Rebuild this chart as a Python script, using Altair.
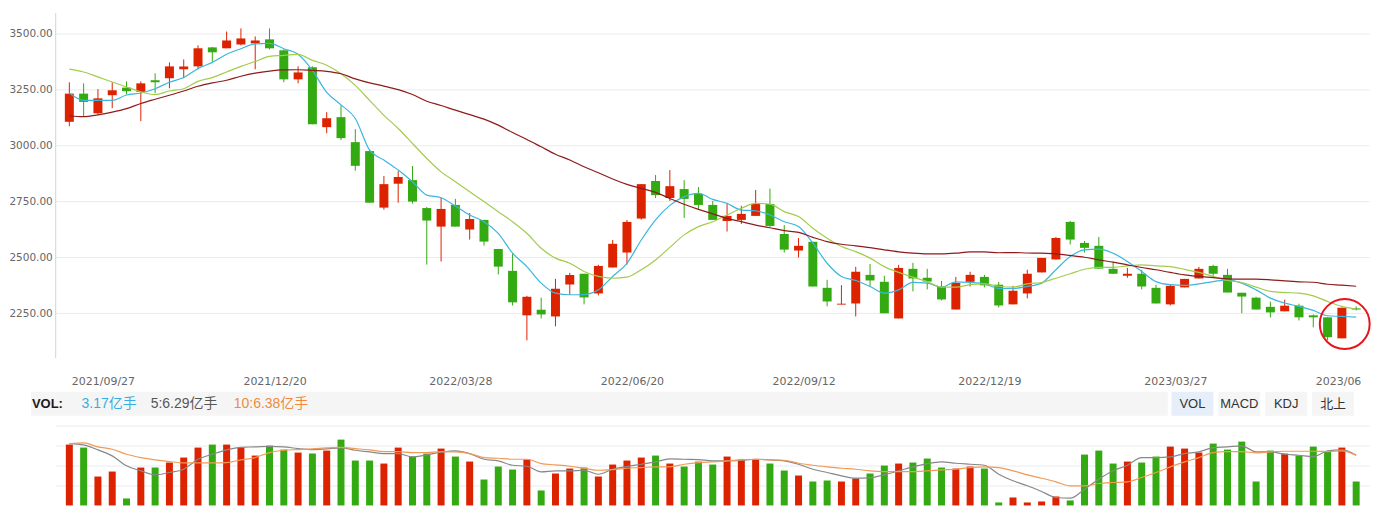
import altair as alt
import pandas as pd

# ---------------- data ----------------
tick_idx = [0, 12, 25, 37, 49, 62, 75, 87]
tick_labels = ["2021/09/27", "2021/12/20", "2022/03/28", "2022/06/20",
               "2022/09/12", "2022/12/19", "2023/03/27", "2023/06"]

open_ = [3106, 3232, 3144, 3225, 3259, 3240, 3292, 3301, 3341, 3354, 3439, 3435, 3452, 3457, 3475, 3426, 3296, 3350, 3082, 3127,
         3015, 2975, 2722, 2829, 2845, 2720, 2637, 2734, 2624, 2667, 2537, 2439, 2240, 2265, 2235, 2378, 2426, 2338, 2454, 2521,
         2673, 2841, 2765, 2805, 2783, 2734, 2662, 2667, 2685, 2738, 2604, 2530, 2569, 2363, 2289, 2293, 2421, 2390, 2226, 2448,
         2408, 2369, 2266, 2390, 2412, 2377, 2289, 2338, 2432, 2490, 2658, 2564, 2551, 2448, 2417, 2426, 2363, 2289, 2365, 2405,
         2461, 2421, 2341, 2319, 2278, 2258, 2283, 2240, 2231, 2137, 2271]
close = [3232, 3195, 3211, 3247, 3243, 3278, 3283, 3354, 3354, 3435, 3417, 3470, 3479, 3470, 3435, 3296, 3327, 3095, 3122, 3033,
         2909, 2744, 2827, 2859, 2749, 2664, 2716, 2637, 2671, 2570, 2458, 2298, 2323, 2244, 2359, 2421, 2320, 2461, 2560, 2658,
         2827, 2778, 2818, 2761, 2734, 2667, 2685, 2694, 2738, 2640, 2534, 2551, 2369, 2302, 2292, 2435, 2396, 2249, 2452, 2405,
         2391, 2311, 2385, 2421, 2374, 2284, 2350, 2426, 2497, 2586, 2579, 2542, 2449, 2426, 2426, 2369, 2293, 2372, 2403, 2448,
         2426, 2342, 2324, 2266, 2253, 2283, 2231, 2231, 2142, 2274, 2266]
high = [3283, 3278, 3252, 3283, 3287, 3287, 3323, 3372, 3385, 3448, 3441, 3510, 3524, 3488, 3524, 3430, 3354, 3354, 3149, 3180,
        3073, 2984, 2863, 2885, 2908, 2725, 2766, 2761, 2698, 2667, 2537, 2515, 2327, 2319, 2403, 2430, 2426, 2466, 2577, 2667,
        2827, 2868, 2890, 2845, 2814, 2752, 2739, 2730, 2801, 2807, 2644, 2586, 2569, 2399, 2375, 2457, 2470, 2417, 2466, 2475,
        2448, 2394, 2412, 2435, 2421, 2390, 2372, 2444, 2497, 2591, 2662, 2573, 2591, 2479, 2452, 2444, 2377, 2377, 2403, 2457,
        2466, 2448, 2341, 2323, 2301, 2310, 2292, 2244, 2231, 2274, 2280]
low = [3086, 3131, 3140, 3167, 3229, 3109, 3234, 3256, 3301, 3341, 3376, 3435, 3448, 3341, 3430, 3283, 3278, 3095, 3055, 3024,
       2887, 2744, 2713, 2744, 2740, 2467, 2481, 2637, 2579, 2552, 2423, 2284, 2128, 2226, 2191, 2332, 2289, 2329, 2454, 2467,
       2668, 2765, 2752, 2676, 2716, 2667, 2615, 2649, 2685, 2635, 2521, 2499, 2369, 2280, 2289, 2235, 2369, 2249, 2226, 2347,
       2356, 2307, 2266, 2369, 2365, 2275, 2289, 2316, 2432, 2490, 2557, 2521, 2449, 2426, 2408, 2356, 2293, 2284, 2365, 2405,
       2412, 2342, 2249, 2266, 2231, 2258, 2217, 2186, 2128, 2137, 2262]

# weekly volume, 亿手
vol = [6.1, 5.8, 2.9, 3.4, 0.7, 3.8, 3.8, 4.3, 4.8, 5.8, 6.1, 6.1, 5.8, 5.0, 6.0, 5.6, 5.3, 5.2, 5.5, 6.6, 4.5, 4.5, 4.2,
       5.8, 4.9, 5.2, 5.7, 4.9, 4.4, 2.6, 3.9, 3.6, 4.6, 1.5, 3.2, 3.7, 3.8, 2.9, 4.1, 4.5, 4.8, 5.0, 4.2, 3.9, 4.4,
       4.1, 4.9, 4.6, 4.6, 4.2, 3.5, 3.0, 2.4, 2.5, 2.4, 2.7, 3.2, 4.0, 4.2, 4.3, 4.7, 3.8, 3.7, 3.9, 3.7, 0.3, 0.8, 0.3,
       0.4, 0.9, 0.5, 5.1, 5.5, 4.2, 4.4, 4.3, 4.9, 5.9, 5.7, 5.3, 6.2, 5.6, 6.4, 2.4, 5.5, 5.2, 5.0, 5.9, 5.4, 5.8, 2.4]
vol_ma5 = [6.2, 6.07, 5.57, 4.97, 3.97, 3.47, 3.07, 3.3, 3.63, 4.63, 5.13, 5.57, 5.83, 5.87, 5.93, 5.87, 5.7, 5.6, 5.67, 5.77, 5.53, 5.37, 5.2,
           5.2, 4.87, 5.07, 5.33, 5.47, 5.2, 4.63, 4.47, 4.03, 3.93, 3.37, 3.47, 3.47, 3.53, 3.13, 3.63, 3.9, 4.13, 4.37, 4.67, 4.63, 4.6,
           4.47, 4.47, 4.53, 4.63, 4.57, 4.47, 4.13, 3.63, 3.3, 2.97, 2.73, 2.77, 3.07, 3.47, 3.87, 4.2, 4.37, 4.23, 4.13, 4.03, 3.13, 2.47, 1.97,
           1.4, 0.8, 0.73, 1.63, 2.63, 3.47, 4.03, 4.8, 4.8, 4.87, 5.2, 5.37, 5.8, 5.87, 5.97, 5.37, 5.37, 5.13, 5.03, 4.9, 5.47, 5.57, 5.03]
vol_ma10 = [6.2, 6.27, 5.87, 5.63, 5.13, 4.8, 4.57, 4.4, 4.27, 4.27, 4.27, 4.3, 4.57, 4.8, 5.3, 5.53, 5.6, 5.67, 5.77, 5.83, 5.7, 5.57, 5.4,
            5.4, 5.3, 5.3, 5.4, 5.37, 5.2, 4.8, 4.73, 4.63, 4.63, 4.2, 4.07, 3.93, 3.73, 3.53, 3.6, 3.73, 3.8, 3.87, 3.87, 4.13, 4.3,
            4.37, 4.47, 4.57, 4.63, 4.57, 4.53, 4.23, 4.03, 3.87, 3.73, 3.63, 3.47, 3.4, 3.4, 3.4, 3.47, 3.57, 3.63, 3.8, 3.87, 3.8, 3.47, 3.07,
            2.73, 2.37, 1.97, 1.97, 2.2, 2.3, 2.37, 2.8, 3.3, 3.87, 4.37, 4.8, 5.3, 5.4, 5.4, 5.27, 5.37, 5.43, 5.43, 5.43, 5.4, 5.47, 5.03]

ma_fast = [3235, 3202, 3202, 3202, 3226, 3235, 3254, 3283, 3304, 3344, 3372, 3408, 3433, 3455, 3457, 3433, 3408, 3336, 3238, 3182,
           3121, 2979, 2935, 2890, 2838, 2778, 2766, 2729, 2689, 2659, 2607, 2518, 2458, 2384, 2339, 2332, 2333, 2354, 2414, 2473,
           2577, 2667, 2732, 2771, 2786, 2759, 2741, 2711, 2708, 2689, 2659, 2637, 2563, 2473, 2414, 2396, 2369, 2339, 2354, 2387,
           2384, 2366, 2390, 2387, 2381, 2360, 2360, 2369, 2384, 2444, 2503, 2533, 2536, 2518, 2481, 2436, 2391, 2377, 2374, 2381,
           2391, 2399, 2384, 2354, 2317, 2295, 2280, 2262, 2238, 2235, 2232]
ma_mid = [3342, 3329, 3307, 3284, 3262, 3240, 3228, 3244, 3254, 3287, 3304, 3329, 3354, 3376, 3399, 3403, 3408, 3381, 3359, 3321,
          3269, 3202, 3135, 3076, 3009, 2942, 2882, 2838, 2793, 2749, 2704, 2659, 2607, 2540, 2496, 2473, 2436, 2414, 2406, 2411,
          2444, 2488, 2544, 2600, 2637, 2659, 2689, 2719, 2741, 2738, 2704, 2682, 2630, 2585, 2548, 2525, 2496, 2458, 2432, 2411,
          2391, 2366, 2366, 2377, 2381, 2370, 2366, 2381, 2387, 2406, 2426, 2446, 2455, 2455, 2461, 2466, 2461, 2458, 2446, 2432,
          2414, 2396, 2387, 2366, 2347, 2342, 2339, 2327, 2302, 2280, 2268]
ma_slow = [3132, 3129, 3137, 3149, 3165, 3188, 3207, 3225, 3244, 3265, 3280, 3292, 3310, 3324, 3333, 3338, 3339, 3336, 3332, 3321,
           3298, 3280, 3266, 3250, 3228, 3198, 3179, 3158, 3138, 3118, 3091, 3058, 3027, 2994, 2961, 2935, 2905, 2878, 2850, 2826,
           2808, 2790, 2763, 2737, 2714, 2694, 2674, 2659, 2644, 2632, 2619, 2611, 2589, 2570, 2558, 2551, 2543, 2533, 2524, 2518,
           2515, 2515, 2518, 2524, 2524, 2520, 2521, 2519, 2518, 2515, 2508, 2500, 2488, 2478, 2466, 2454, 2444, 2432, 2421, 2414,
           2409, 2403, 2402, 2402, 2399, 2394, 2390, 2388, 2379, 2375, 2370]

highlight_idx = [89.2]
highlight_price = [2201]

vol_header = ["3.17亿手", "5:6.29亿手", "10:6.38亿手"]
buttons = ["VOL", "MACD", "KDJ", "北上"]

# ---------------- chart ----------------
idx = list(range(len(open_)))
candles = pd.DataFrame({"i": idx, "open": open_, "close": close, "high": high, "low": low, "vol": vol})
mas = pd.DataFrame({"i": idx, "ma_fast": ma_fast, "ma_mid": ma_mid, "ma_slow": ma_slow,
                    "vma5": vol_ma5, "vma10": vol_ma10})
hl = pd.DataFrame({"i": highlight_idx, "p": highlight_price})
one = pd.DataFrame({"a": [0]})

RED = "#dd2200"
GREEN = "#33aa11"
W = 1316.7
H = 494
AX_FONT = "DejaVu Sans"
UI_FONT = "Liberation Sans, Noto Sans CJK SC, sans-serif"

label_expr = ("[" + ",".join("'%s'" % s for s in tick_labels) + "][indexof(["
              + ",".join(str(v) for v in tick_idx) + "], datum.value)]")

x_scale = alt.Scale(domain=[-0.64, 90.55], nice=False, zero=False)
x_axis = alt.Axis(values=tick_idx, labelExpr=label_expr, orient="bottom", offset=-(H - 346),
                  domain=False, ticks=False, tickSize=0, grid=False, labelPadding=24,
                  labelBaseline="middle", labelAlign="left", labelFlush=False, labelOverlap=False,
                  labelOffset=2, labelColor="#666666", labelFont=AX_FONT, labelFontSize=11, title=None)


def X(f):
    return alt.X(f, type="quantitative", scale=x_scale, axis=x_axis)


p_scale = alt.Scale(domain=[2050, 3595], range=[346, 0], nice=False, zero=False)
p_axis = alt.Axis(values=[2250, 2500, 2750, 3000, 3250, 3500], format=".2f", grid=True,
                  gridColor="#ebebeb", domain=True, domainColor="#ccd5e0", ticks=False, tickSize=0,
                  labelPadding=3, labelColor="#666666", labelFont=AX_FONT, labelFontSize=10.5, title=None)


def YP(f):
    return alt.Y(f, type="quantitative", scale=p_scale, axis=p_axis)


v_scale = alt.Scale(domain=[0, 10], range=[H, H - 100], nice=False, zero=True)
v_axis = alt.Axis(values=[2, 4, 6, 8], grid=True, gridColor="#e8ebef", labels=False, ticks=False,
                  domain=False, title=None, orient="right")


def YV(f):
    return alt.Y(f, type="quantitative", scale=v_scale, axis=v_axis)


color = alt.Color("dir:N", scale=alt.Scale(domain=["up", "down"], range=[RED, GREEN]), legend=None)

base = alt.Chart(candles).transform_calculate(
    dir="datum.close >= datum.open ? 'up' : 'down'",
    btop="max(datum.open, datum.close)",
    bbot="min(min(datum.open, datum.close), max(datum.open, datum.close) - 4)",
)

wick = base.mark_rule(strokeWidth=1).encode(x=X("i"), y=YP("low"), y2=alt.Y2("high"), color=color)
body = base.mark_bar(size=9).encode(x=X("i"), y=YP("btop"), y2=alt.Y2("bbot"), color=color)

l_fast = alt.Chart(mas).mark_line(color="#3cb6dc", strokeWidth=1.2, interpolate="monotone").encode(x=X("i"), y=YP("ma_fast"))
l_mid = alt.Chart(mas).mark_line(color="#a3cc4c", strokeWidth=1.2, interpolate="monotone").encode(x=X("i"), y=YP("ma_mid"))
l_slow = alt.Chart(mas).mark_line(color="#8e1b1b", strokeWidth=1.2, interpolate="monotone").encode(x=X("i"), y=YP("ma_slow"))

ring = alt.Chart(hl).mark_point(shape="circle", filled=False, size=2500, color="#e8141c",
                                strokeWidth=2, opacity=1).encode(x=X("i"), y=YP("p"))

price = alt.layer(wick, body, l_fast, l_mid, l_slow, ring)

vbar = base.mark_bar(size=7).encode(x=X("i"), y=YV("vol"), color=color)
v5 = alt.Chart(mas).mark_line(color="#888888", strokeWidth=1.2, interpolate="monotone").encode(x=X("i"), y=YV("vma5"))
v10 = alt.Chart(mas).mark_line(color="#f19a56", strokeWidth=1.2, interpolate="monotone").encode(x=X("i"), y=YV("vma10"))
volume = alt.layer(vbar, v5, v10)

# ---- indicator header bar (UI chrome) ----
bar_bg = alt.Chart(one).mark_rect(color="#f5f5f5").encode(
    x=alt.value(-24.3), x2=alt.value(1115), y=alt.value(380), y2=alt.value(404))
t_vol = alt.Chart(one).mark_text(text="VOL:", font=UI_FONT, fontSize=13, fontWeight="bold",
                                 color="#1a1a1a", align="left", baseline="middle").encode(
    x=alt.value(-23.3), y=alt.value(392))
t_cur = alt.Chart(one).mark_text(text=vol_header[0], font=UI_FONT, fontSize=14, color="#38ade0",
                                 align="left", baseline="middle").encode(x=alt.value(26.4), y=alt.value(392))
t_m5 = alt.Chart(one).mark_text(text=vol_header[1], font=UI_FONT, fontSize=14, color="#555555",
                                align="left", baseline="middle").encode(x=alt.value(95.7), y=alt.value(392))
t_m10 = alt.Chart(one).mark_text(text=vol_header[2], font=UI_FONT, fontSize=14, color="#f08a3c",
                                 align="left", baseline="middle").encode(x=alt.value(179), y=alt.value(392))

btn_layers = []
btn_left = [1118.7, 1165.7, 1212.7, 1259.7]
for k, name in enumerate(buttons):
    fill = "#e6eef9" if k == 0 else "#f5f5f5"
    bx = btn_left[k]
    btn_layers.append(alt.Chart(one).mark_rect(color=fill).encode(
        x=alt.value(bx), x2=alt.value(bx + 42), y=alt.value(380), y2=alt.value(404)))
    btn_layers.append(alt.Chart(one).mark_text(text=name, font=UI_FONT, fontSize=13, color="#333333",
                                               align="center", baseline="middle").encode(
        x=alt.value(bx + 21), y=alt.value(392)))

chart = alt.layer(price, volume, bar_bg, t_vol, t_cur, t_m5, t_m10, *btn_layers).resolve_scale(
    y="independent"
).properties(
    width=W, height=H,
    autosize=alt.AutoSizeParams(type="none"),
    padding={"left": 47.3, "top": 4, "right": 10, "bottom": 0},
).configure_view(stroke=None)

chart.save("out.html", embed_options={"renderer": "svg", "actions": False})
